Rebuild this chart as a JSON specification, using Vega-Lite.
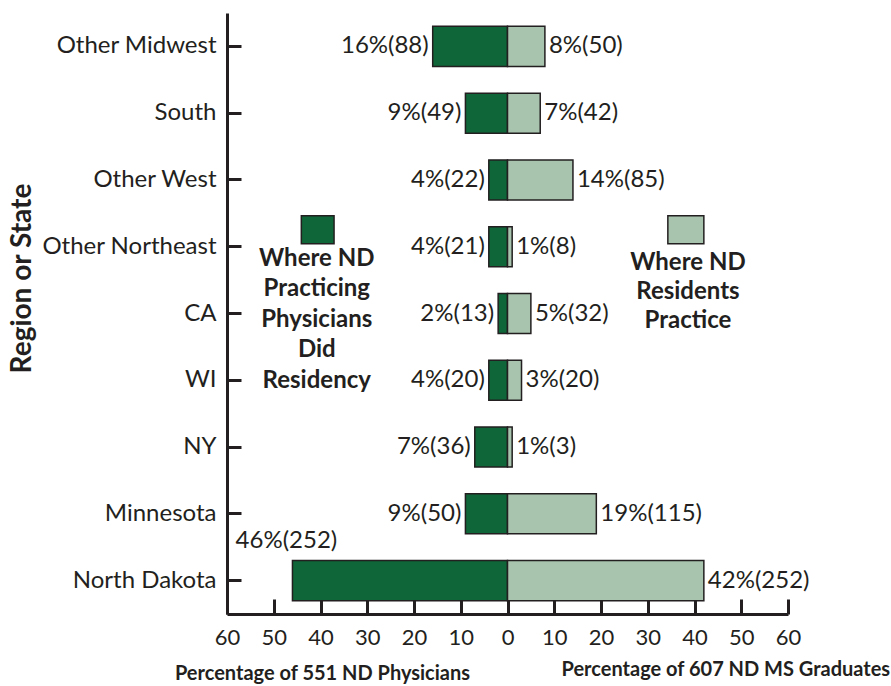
{
  "$schema": "https://vega.github.io/schema/vega-lite/v6.json",
  "width": 561,
  "height": 601,
  "autosize": {"type": "none"},
  "padding": {"left": 227, "top": 13, "right": 103, "bottom": 72},
  "background": "white",
  "config": {"view": {"stroke": null}, "font": "Lato"},
  "datasets": {
    "bars": [
      {"region": "Other Midwest", "side": "Physicians", "value": -16, "label": "16%(88)"},
      {"region": "Other Midwest", "side": "Graduates", "value": 8, "label": "8%(50)"},
      {"region": "South", "side": "Physicians", "value": -9, "label": "9%(49)"},
      {"region": "South", "side": "Graduates", "value": 7, "label": "7%(42)"},
      {"region": "Other West", "side": "Physicians", "value": -4, "label": "4%(22)"},
      {"region": "Other West", "side": "Graduates", "value": 14, "label": "14%(85)"},
      {"region": "Other Northeast", "side": "Physicians", "value": -4, "label": "4%(21)"},
      {"region": "Other Northeast", "side": "Graduates", "value": 1, "label": "1%(8)"},
      {"region": "CA", "side": "Physicians", "value": -2, "label": "2%(13)"},
      {"region": "CA", "side": "Graduates", "value": 5, "label": "5%(32)"},
      {"region": "WI", "side": "Physicians", "value": -4, "label": "4%(20)"},
      {"region": "WI", "side": "Graduates", "value": 3, "label": "3%(20)"},
      {"region": "NY", "side": "Physicians", "value": -7, "label": "7%(36)"},
      {"region": "NY", "side": "Graduates", "value": 1, "label": "1%(3)"},
      {"region": "Minnesota", "side": "Physicians", "value": -9, "label": "9%(50)"},
      {"region": "Minnesota", "side": "Graduates", "value": 19, "label": "19%(115)"},
      {"region": "North Dakota", "side": "Physicians", "value": -46, "label": "46%(252)"},
      {"region": "North Dakota", "side": "Graduates", "value": 42, "label": "42%(252)"}
    ],
    "legendBoxes": [
      {"region": "Other Northeast", "side": "Physicians", "value": -44.1, "value2": -37.1},
      {"region": "Other Northeast", "side": "Graduates", "value": 34.3, "value2": 42.0}
    ],
    "legendTextLeft": [
      {"region": "Other Northeast", "value": -40.8, "label": "Where ND\nPracticing\nPhysicians\nDid\nResidency"}
    ],
    "legendTextRight": [
      {"region": "Other Northeast", "value": 38.6, "label": "Where ND\nResidents\nPractice"}
    ],
    "xTitle2": [
      {"region": "North Dakota", "value": 46.7, "label": "Percentage of 607 ND MS Graduates"}
    ]
  },
  "data": {"name": "bars"},
  "encoding": {
    "y": {
      "field": "region",
      "type": "nominal",
      "sort": ["Other Midwest", "South", "Other West", "Other Northeast", "CA", "WI", "NY", "Minnesota", "North Dakota"],
      "scale": {"paddingInner": 0.4, "paddingOuter": 0.2},
      "axis": {
        "title": "Region or State",
        "titleFont": "Lato",
        "titleFontSize": 28,
        "titleFontWeight": "bold",
        "titleColor": "#231f20",
        "titleX": -205,
        "titleY": 265,
        "titleAlign": "center",
        "titleBaseline": "middle",
        "titleAngle": -90,
        "labelFont": "Lato",
        "labelFontSize": 24,
        "labelColor": "#231f20",
        "labelPadding": 25,
        "tickSize": -14,
        "tickWidth": 3,
        "tickColor": "#231f20",
        "domainWidth": 3,
        "domainColor": "#231f20",
        "grid": false
      }
    },
    "x": {
      "field": "value",
      "type": "quantitative",
      "scale": {"domain": [-60, 60], "nice": false},
      "axis": {
        "values": [-60, -50, -40, -30, -20, -10, 0, 10, 20, 30, 40, 50, 60],
        "labelExpr": "abs(datum.value)",
        "title": "Percentage of 551 ND Physicians",
        "titleFont": "Lato",
        "titleFontSize": 20,
        "titleFontWeight": "bold",
        "titleColor": "#231f20",
        "titleX": 95,
        "titleY": 59,
        "titleAlign": "center",
        "titleBaseline": "middle",
        "labelFont": "Lato",
        "labelFontSize": 22,
        "labelColor": "#231f20",
        "labelPadding": 28,
        "labelFlush": false,
        "tickSize": -15,
        "tickWidth": 3,
        "tickColor": "#231f20",
        "domainWidth": 3,
        "domainColor": "#231f20",
        "grid": false
      }
    }
  },
  "layer": [
    {
      "mark": {"type": "bar", "stroke": "#231f20", "strokeWidth": 1.5},
      "encoding": {
        "color": {
          "field": "side",
          "type": "nominal",
          "scale": {"domain": ["Physicians", "Graduates"], "range": ["#0f6638", "#a9c4ae"]},
          "legend": null
        }
      }
    },
    {
      "transform": [{"filter": "datum.side == 'Physicians' && datum.region != 'North Dakota'"}],
      "mark": {"type": "text", "align": "right", "baseline": "middle", "dx": -4, "fontSize": 24, "font": "Lato", "color": "#231f20"},
      "encoding": {"text": {"field": "label"}}
    },
    {
      "transform": [{"filter": "datum.side == 'Graduates'"}],
      "mark": {"type": "text", "align": "left", "baseline": "middle", "dx": 4, "fontSize": 24, "font": "Lato", "color": "#231f20"},
      "encoding": {"text": {"field": "label"}}
    },
    {
      "transform": [{"filter": "datum.side == 'Physicians' && datum.region == 'North Dakota'"}],
      "mark": {"type": "text", "align": "center", "baseline": "middle", "dx": -6, "dy": -40, "fontSize": 24, "font": "Lato", "color": "#231f20"},
      "encoding": {"text": {"field": "label"}}
    },
    {
      "data": {"name": "legendBoxes"},
      "mark": {"type": "bar", "size": 28, "yOffset": -17, "stroke": "#231f20", "strokeWidth": 1.5},
      "encoding": {
        "x2": {"field": "value2"},
        "color": {"field": "side", "type": "nominal", "legend": null}
      }
    },
    {
      "data": {"name": "legendTextLeft"},
      "mark": {"type": "text", "align": "center", "baseline": "top", "lineBreak": "\n", "lineHeight": 30.5, "dy": 0, "fontSize": 24, "fontWeight": "bold", "font": "Lato", "color": "#231f20"},
      "encoding": {"text": {"field": "label"}}
    },
    {
      "data": {"name": "legendTextRight"},
      "mark": {"type": "text", "align": "center", "baseline": "top", "lineBreak": "\n", "lineHeight": 29, "dy": 4, "fontSize": 24, "fontWeight": "bold", "font": "Lato", "color": "#231f20"},
      "encoding": {"text": {"field": "label"}}
    },
    {
      "data": {"name": "xTitle2"},
      "mark": {"type": "text", "align": "center", "baseline": "middle", "dy": 89, "fontSize": 20, "fontWeight": "bold", "font": "Lato", "color": "#231f20"},
      "encoding": {"text": {"field": "label"}}
    }
  ]
}
